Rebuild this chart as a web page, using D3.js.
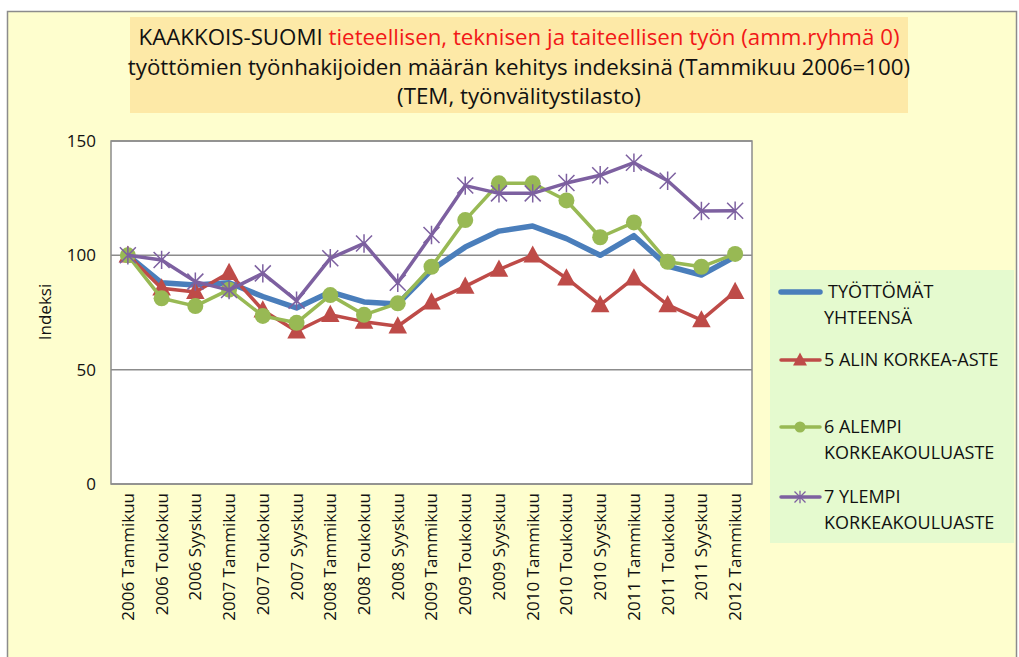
<!DOCTYPE html>
<html>
<head>
<meta charset="utf-8">
<script src="https://cdn.jsdelivr.net/npm/d3@7"></script>
<style>
  html, body { margin: 0; padding: 0; background: #ffffff; }
  svg { display: block; }
</style>
</head>
<body>
<svg id="chart" width="1019" height="657"></svg>
<script>
// Months along the x axis
const categories = [
  "2006 Tammikuu", "2006 Toukokuu", "2006 Syyskuu",
  "2007 Tammikuu", "2007 Toukokuu", "2007 Syyskuu",
  "2008 Tammikuu", "2008 Toukokuu", "2008 Syyskuu",
  "2009 Tammikuu", "2009 Toukokuu", "2009 Syyskuu",
  "2010 Tammikuu", "2010 Toukokuu", "2010 Syyskuu",
  "2011 Tammikuu", "2011 Toukokuu", "2011 Syyskuu",
  "2012 Tammikuu"
];

// Index values (Tammikuu 2006 = 100)
const tyottomatYhteensa = [100, 88, 87, 88, 82, 77, 84, 79.6, 78.7, 93.6, 103.6, 110.6, 112.8, 107.3, 100, 108.6, 95.3, 91.4, 99.4];
const alinKorkeaAste    = [100, 85.6, 84, 92.4, 76, 66.8, 74, 71, 69, 79.5, 86.4, 93.8, 100, 90, 78.3, 90, 78.3, 71.7, 84.1];
const alempiKorkeakoulu = [100, 81.2, 77.8, 85, 73.5, 70.5, 82.6, 74, 79, 95, 115.4, 131.5, 131.5, 124, 107.9, 114.4, 97.2, 95, 100.6];
const ylempiKorkeakoulu = [100, 98, 88.5, 84.8, 92.1, 80.2, 98.7, 105.2, 88, 108.9, 130.5, 127.1, 127.1, 131.6, 135, 140.5, 132.6, 119.4, 119.5];

const yTicks = [0, 50, 100, 150];

const seriesNames = [
  ["TYÖTTÖMÄT", "YHTEENSÄ"],
  ["5 ALIN KORKEA-ASTE"],
  ["6 ALEMPI", "KORKEAKOULUASTE"],
  ["7 YLEMPI", "KORKEAKOULUASTE"]
];

const series = [
  { name: seriesNames[0], values: tyottomatYhteensa, color: "#4A7EBB", width: 5.5, marker: "none" },
  { name: seriesNames[1], values: alinKorkeaAste,    color: "#BE4B48", width: 3.5, marker: "triangle" },
  { name: seriesNames[2], values: alempiKorkeakoulu, color: "#98B954", width: 3.5, marker: "circle" },
  { name: seriesNames[3], values: ylempiKorkeakoulu, color: "#7D60A0", width: 3.5, marker: "star" }
];

const svg = d3.select("#chart");
const W = 1019, H = 657;

// Chart area background and frame
svg.append("rect").attr("x", 0).attr("y", 0).attr("width", W).attr("height", H).attr("fill", "#ffffff");
svg.append("rect")
  .attr("x", 7.5).attr("y", 11.5).attr("width", 1009).attr("height", 660)
  .attr("fill", "#FEFECE").attr("stroke", "#8C8C8C").attr("stroke-width", 1.5);

// Title box
svg.append("rect").attr("x", 130).attr("y", 17).attr("width", 778).attr("height", 96).attr("fill", "#FDE9A7");

const titleFont = "'Open Sans', 'DejaVu Sans', sans-serif";
const titleSize = 22.3;
const t1 = svg.append("text")
  .attr("x", 519).attr("y", 45)
  .attr("text-anchor", "middle")
  .attr("font-family", titleFont).attr("font-size", titleSize)
  .attr("fill", "#111");
t1.append("tspan").text("KAAKKOIS-SUOMI ");
t1.append("tspan").attr("fill", "#F21818").text(" tieteellisen, teknisen ja taiteellisen työn (amm.ryhmä 0)");
svg.append("text")
  .attr("x", 519).attr("y", 75)
  .attr("text-anchor", "middle")
  .attr("font-family", titleFont).attr("font-size", titleSize).attr("fill", "#111")
  .text("työttömien työnhakijoiden määrän kehitys indeksinä (Tammikuu 2006=100)");
svg.append("text")
  .attr("x", 519).attr("y", 104)
  .attr("text-anchor", "middle")
  .attr("font-family", titleFont).attr("font-size", titleSize).attr("fill", "#111")
  .text("(TEM, työnvälitystilasto)");

// Plot area
const plot = { left: 111, right: 752, top: 141, bottom: 484 };

const x = d3.scaleBand()
  .domain(categories)
  .range([plot.left, plot.right]);

const y = d3.scaleLinear()
  .domain([0, 150])
  .range([plot.bottom, plot.top]);

svg.append("rect")
  .attr("x", plot.left).attr("y", plot.top)
  .attr("width", plot.right - plot.left).attr("height", plot.bottom - plot.top)
  .attr("fill", "#ffffff");

// Horizontal gridlines
svg.append("g")
  .selectAll("line")
  .data(yTicks)
  .join("line")
  .attr("x1", plot.left).attr("x2", plot.right)
  .attr("y1", d => y(d)).attr("y2", d => y(d))
  .attr("stroke", "#8C8C8C").attr("stroke-width", 1.5);

// Plot border
svg.append("rect")
  .attr("x", plot.left).attr("y", plot.top)
  .attr("width", plot.right - plot.left).attr("height", plot.bottom - plot.top)
  .attr("fill", "none").attr("stroke", "#8C8C8C").attr("stroke-width", 1.5);

const axisFont = "'Open Sans', 'DejaVu Sans', sans-serif";

// Y axis
const yAxis = svg.append("g")
  .attr("transform", `translate(${plot.left},0)`)
  .call(d3.axisLeft(y).tickValues(yTicks).tickSize(0).tickPadding(15));
yAxis.select(".domain").remove();
yAxis.selectAll("text")
  .attr("font-family", axisFont).attr("font-size", 17).attr("fill", "#111");

svg.append("text")
  .attr("transform", "translate(51,312) rotate(-90)")
  .attr("text-anchor", "middle")
  .attr("font-family", axisFont).attr("font-size", 17).attr("fill", "#111")
  .text("Indeksi");

// X axis
const xAxis = svg.append("g")
  .attr("transform", `translate(0,${plot.bottom})`)
  .call(d3.axisBottom(x).tickSize(0).tickPadding(0));
xAxis.select(".domain").remove();
xAxis.selectAll("text")
  .attr("font-family", axisFont).attr("font-size", 17).attr("fill", "#111")
  .attr("text-anchor", "end")
  .attr("dy", "0.35em")
  .attr("transform", "translate(0,9) rotate(-90)")
  .attr("x", 0).attr("y", 0);

const cx = d => x(d) + x.bandwidth() / 2;

// Markers
function markerPath(type, s) {
  if (type === "triangle") {
    return `M0,${-s * 0.62}L${s * 0.58},${s * 0.45}L${-s * 0.58},${s * 0.45}Z`;
  }
  if (type === "star") {
    const h = s / 2;
    return `M${-h},${-h}L${h},${h}M${-h},${h}L${h},${-h}M0,${-h * 1.15}L0,${h * 1.15}`;
  }
  return "";
}

const line = d3.line()
  .x((d, i) => cx(categories[i]))
  .y(d => y(d));

series.forEach(s => {
  const g = svg.append("g");
  g.append("path")
    .datum(s.values)
    .attr("d", line)
    .attr("fill", "none")
    .attr("stroke", s.color)
    .attr("stroke-width", s.width)
    .attr("stroke-linejoin", "round");

  const pts = s.values.map((v, i) => ({ c: categories[i], v }));
  if (s.marker === "circle") {
    g.selectAll("circle").data(pts).join("circle")
      .attr("cx", d => cx(d.c)).attr("cy", d => y(d.v))
      .attr("r", 8).attr("fill", s.color);
  } else if (s.marker === "triangle") {
    g.selectAll("path.m").data(pts).join("path").attr("class", "m")
      .attr("transform", d => `translate(${cx(d.c)},${y(d.v)})`)
      .attr("d", markerPath("triangle", 16))
      .attr("fill", s.color);
  } else if (s.marker === "star") {
    g.selectAll("path.m").data(pts).join("path").attr("class", "m")
      .attr("transform", d => `translate(${cx(d.c)},${y(d.v)})`)
      .attr("d", markerPath("star", 16))
      .attr("fill", "none").attr("stroke", s.color).attr("stroke-width", 1.5);
  }
});

// Legend
const legend = svg.append("g");
legend.append("rect")
  .attr("x", 770).attr("y", 270).attr("width", 244).attr("height", 273)
  .attr("fill", "#E5FACF");

const legendRows = [
  { y: 292, lines: series[0].name, s: series[0] },
  { y: 360, lines: series[1].name, s: series[1] },
  { y: 427, lines: series[2].name, s: series[2] },
  { y: 497, lines: series[3].name, s: series[3] }
];
const legendFont = "'Open Sans', 'DejaVu Sans', sans-serif";

legendRows.forEach(r => {
  const g = legend.append("g");
  g.append("line")
    .attr("x1", 781).attr("x2", 820)
    .attr("y1", r.y).attr("y2", r.y)
    .attr("stroke", r.s.color).attr("stroke-width", r.s.width)
    .attr("stroke-linecap", "round");
  if (r.s.marker === "circle") {
    g.append("circle").attr("cx", 800).attr("cy", r.y).attr("r", 5.5).attr("fill", r.s.color);
  } else if (r.s.marker === "triangle") {
    g.append("path").attr("transform", `translate(800,${r.y})`)
      .attr("d", markerPath("triangle", 12)).attr("fill", r.s.color);
  } else if (r.s.marker === "star") {
    g.append("path").attr("transform", `translate(800,${r.y})`)
      .attr("d", markerPath("star", 11)).attr("fill", "none")
      .attr("stroke", r.s.color).attr("stroke-width", 1.3);
  }
  const tx = r.s.marker === "none" ? 828 : 824;
  r.lines.forEach((ln, k) => {
    g.append("text")
      .attr("x", k === 0 ? tx : 824).attr("y", r.y + 6 + k * 26)
      .attr("font-family", legendFont).attr("font-size", 18).attr("fill", "#111")
      .text(ln);
  });
});
</script>
</body>
</html>
